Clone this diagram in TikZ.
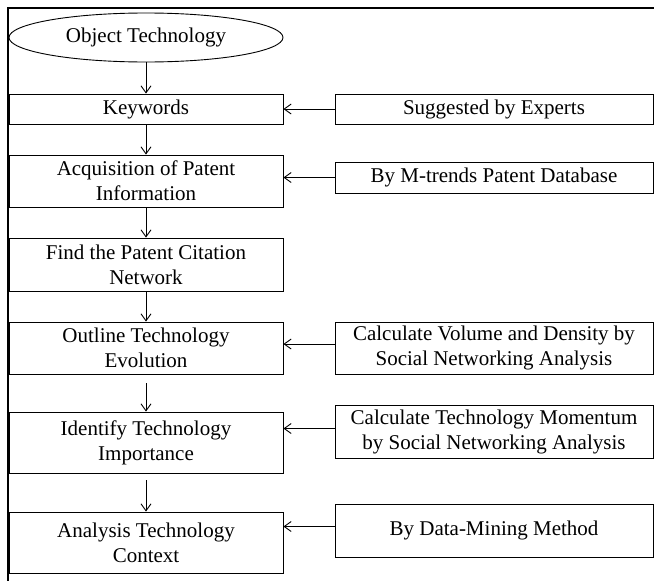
\documentclass[tikz,border=0pt]{standalone}
\usepackage{fontspec}
\setmainfont{Liberation Serif}
\usetikzlibrary{shapes.geometric,arrows.meta}

\begin{document}
\begin{tikzpicture}[x=1pt, y=-1pt,
	box/.style={draw, line width=0.9pt, align=center, inner sep=0pt, font=\fontsize{21}{25}\selectfont},
	lbox/.style={box, minimum width=274pt},
	rbox/.style={box, minimum width=318pt},
	flow/.style={-{Straight Barb[length=7pt,width=10pt]}, line width=0.9pt}]
	\useasboundingbox (0,0) rectangle (654,581);
	
	% frame
	\draw[line width=2.4pt] (8,581) -- (8,8) -- (654,8);
	
	% main steps
	\node[box, ellipse, minimum width=274pt, minimum height=49pt] (obj) at (146,37.5) {Object Technology};
	\node[lbox, minimum height=30pt] (kw) at (146,109) {Keywords};
	\node[lbox, minimum height=52pt] (acq) at (146,181) {Acquisition of Patent\\Information};
	\node[lbox, minimum height=53pt] (cit) at (146,264.5) {Find the Patent Citation\\Network};
	\node[lbox, minimum height=52pt] (evo) at (146,348) {Outline Technology\\Evolution};
	\node[lbox, minimum height=61pt] (imp) at (146,442.5) {Identify Technology\\Importance};
	\node[lbox, minimum height=61pt] (ctx) at (146,542.5) {Analysis Technology\\Context};
	
	% inputs
	\node[rbox, minimum height=30pt] (exp) at (494,109) {Suggested by Experts};
	\node[rbox, minimum height=31pt] (db) at (494,177.5) {By M-trends Patent Database};
	\node[rbox, minimum height=52pt] (sna) at (494,348) {Calculate Volume and Density by\\Social Networking Analysis};
	\node[rbox, minimum height=53pt] (mom) at (494,431.5) {Calculate Technology Momentum\\by Social Networking Analysis};
	\node[rbox, minimum height=53pt] (dm) at (494,530.5) {By Data-Mining Method};
	
	\draw[flow] (obj) -- (kw);
	\draw[flow] (kw) -- (acq);
	\draw[flow] (acq) -- (cit);
	\draw[flow] (cit) -- (evo);
	\draw[flow, shorten <=9pt] (evo) -- (imp);
	\draw[flow, shorten <=7pt] (imp) -- (ctx);
	
	\foreach \from/\to/\dy in {exp/kw/0, db/acq/0, sna/evo/-4, mom/imp/-3, dm/ctx/-4}
	\draw[flow] ([yshift=-\dy pt]\from.west) -- ([yshift=-\dy pt]\from.west -| \to.east);
\end{tikzpicture}
\end{document}
